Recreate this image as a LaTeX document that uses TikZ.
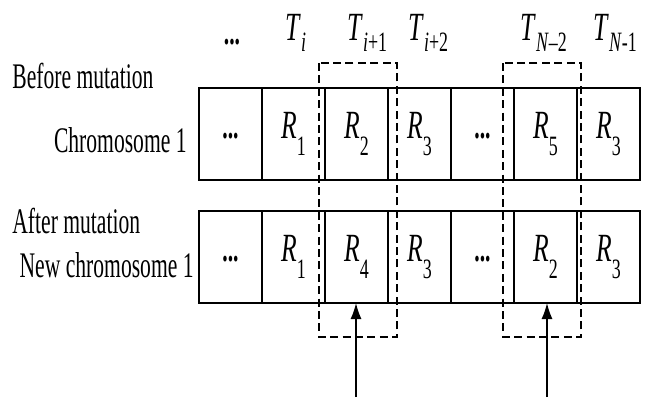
\documentclass[tikz,border=0pt]{standalone}
\usepackage{fontspec}
\setmainfont{Liberation Serif}
\usepackage{graphicx}
\usetikzlibrary{arrows.meta}

% testo stretto come nel riferimento
\newcommand\nar[1]{\scalebox{0.6}[1]{#1}}
\newcommand\narm[1]{\scalebox{0.64}[1]{\fontsize{20}{22}\selectfont #1}}
\newcommand\idx[2]{\textit{#1}\raisebox{-0.9ex}{\fontsize{14}{14}\selectfont #2}}
\newcommand\tidx[1]{\textit{T}\raisebox{-0.65ex}{\fontsize{14}{14}\selectfont #1}}
\newcommand\gap{\raisebox{-0.6ex}{\nar{\textbf{...}}}}

\begin{document}
\begin{tikzpicture}[
    x=0.5pt,
    y=-0.5pt,
    >={Latex[length=8pt,width=5.5pt]},
    line join=miter,
    font=\fontsize{18}{20}\selectfont,
    gene/.style={draw,line width=0.7pt,rectangle,minimum width=31.5pt,
        minimum height=46pt,inner sep=0pt,outer sep=0pt},
    dashbox/.style={line width=0.8pt,dash pattern=on 4pt off 2.2pt},
    lbl/.style={inner sep=0pt}
]
\useasboundingbox (0,0) rectangle (647,397);

% Parametri
\def\xa{199}
\def\cw{63}
\def\ytop{134}
\def\ybot{257}

% Riga prima della mutazione
\foreach \i/\t in {1/{\gap},2/{\narm{\idx{R}{1}}},3/{\narm{\idx{R}{2}}},
                   4/{\narm{\idx{R}{3}}},5/{\gap},6/{\narm{\idx{R}{5}}},
                   7/{\narm{\idx{R}{3}}}}
    \node[gene] (old\i) at ({\xa+(\i-0.5)*\cw},\ytop) {\t};

% Riga dopo la mutazione
\foreach \i/\t in {1/{\gap},2/{\narm{\idx{R}{1}}},3/{\narm{\idx{R}{4}}},
                   4/{\narm{\idx{R}{3}}},5/{\gap},6/{\narm{\idx{R}{2}}},
                   7/{\narm{\idx{R}{3}}}}
    \node[gene] (new\i) at ({\xa+(\i-0.5)*\cw},\ybot) {\t};

% Bordi orizzontali spessi
\draw[line width=1.2pt] (old1.north west) -- (old7.north east)
    (old1.south west) -- (old7.south east);
\draw[line width=1.2pt] (new1.north west) -- (new7.north east)
    (new1.south west) -- (new7.south east);

% Riquadri tratteggiati
\draw[dashbox] (319,63) rectangle (397,337);
\draw[dashbox] (503,63) rectangle (581,337);

% Etichette T
\node[lbl] (tdots) at (232,42) {\nar{\textbf{...}}};
\foreach \x/\t/\n in {285/{\textit{i}}/ti,347/{\textit{i}+1}/tia,
                      408/{\textit{i}+2}/tib,520/{\textit{N}--2}/tna,
                      593/{\textit{N}-1}/tnb}
    \node[lbl,anchor=base west] (\n) at (\x,40) {\narm{\tidx{\t}}};

% Testi a sinistra
\node[lbl,anchor=base west] (before) at (12,88) {\nar{Before mutation}};
\node[lbl,anchor=base east] (chrom) at (187,152) {\nar{Chromosome 1}};
\node[lbl,anchor=base west] (after) at (12,233) {\nar{After mutation}};
\node[lbl,anchor=base east] (newchrom) at (194,277) {\nar{New chromosome 1}};

% Frecce
\coordinate (pa) at (356,397);
\coordinate (pb) at (547,397);
\draw[->,line width=0.7pt] (pa) -- (pa |- new3.south);
\draw[->,line width=0.7pt] (pb) -- (pb |- new6.south);

\end{tikzpicture}
\end{document}
